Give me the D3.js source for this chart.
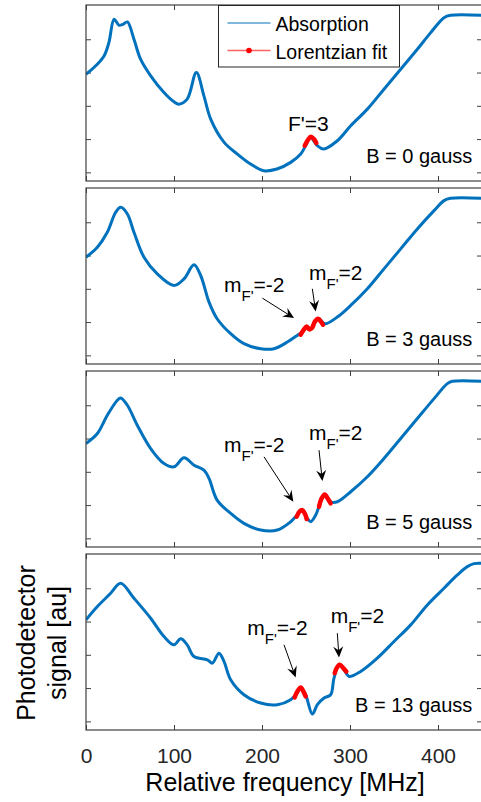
<!DOCTYPE html>
<html>
<head>
<meta charset="utf-8">
<script src="https://cdn.jsdelivr.net/npm/d3@7"></script>
<style>
  body { margin: 0; background: #fff; }
  svg { display: block; font-family: "Liberation Sans", Arial, sans-serif; }
</style>
</head>
<body>
<svg id="chart" width="481" height="802"></svg>
<script>
// data: [frequency MHz, signal au]
const fieldLabels = ["B = 0 gauss", "B = 3 gauss", "B = 5 gauss", "B = 13 gauss"]
const xTicks = [0, 100, 200, 300, 400]
const yTicks = [0, 1, 2, 3, 4]

const abs0 = [[0,2.95],[9,3.15],[20.5,3.5],[26,3.9],[32,4.6],[37.5,4.42],[42,4.45],[47,4.52],[54.5,4.0],[62,3.4],[73.5,2.9],[88.6,2.4],[100,2.12],[105.7,2.05],[115,2.2],[125.4,3.0],[134,2.3],[141.7,1.6],[157,0.9],[172,0.55],[187,0.25],[202,0.05],[217,0.1],[232.6,0.3],[244,0.55],[249.6,0.8],[255,1.05],[263,0.8],[270,0.7],[285.6,0.95],[300.8,1.4],[319.7,1.9],[338.6,2.5],[357.6,3.1],[376.5,3.7],[391.7,4.2],[406.8,4.65],[414.4,4.72],[450,4.72]]
const abs3 = [[0,2.95],[12.9,3.25],[24.2,3.7],[33.7,4.3],[39.4,4.45],[47,4.25],[54.5,3.7],[65.9,2.95],[81,2.45],[100,2.1],[111.4,2.3],[122.7,2.72],[130.3,2.4],[139.8,1.6],[149,1.1],[164.4,0.65],[179.5,0.35],[198.5,0.2],[213.6,0.2],[228.8,0.4],[240,0.6],[245.8,0.7],[250.8,0.87],[255.3,0.78],[259,0.95],[264.8,1.1],[268.6,1.0],[272.3,0.95],[285.6,1.15],[300.8,1.5],[319.7,2.0],[338.6,2.6],[357.6,3.2],[376.5,3.8],[395.5,4.35],[406.8,4.65],[414.4,4.72],[450,4.72]]
const abs5 = [[0,2.85],[12.9,3.15],[24.2,3.7],[35.6,4.15],[39.4,4.22],[47,4.0],[58.3,3.4],[73.5,2.7],[88.6,2.25],[100,2.15],[111.4,2.42],[122.7,2.2],[134,2.05],[139.8,1.8],[149,1.15],[164.4,0.75],[179.5,0.45],[198.5,0.25],[217.4,0.25],[232.6,0.5],[240,0.7],[245.8,0.85],[251.5,0.6],[255.3,0.5],[261,0.7],[266.7,1.1],[271.2,1.32],[278,1.1],[285.6,1.1],[300.8,1.4],[319.7,1.85],[338.6,2.4],[357.6,3.0],[376.5,3.6],[395.5,4.2],[410.6,4.65],[416.3,4.72],[450,4.72]]
const abs13 = [[0,3.05],[12.9,3.45],[28,3.85],[39.4,4.15],[54.5,3.7],[73.5,3.1],[88.6,2.55],[100,2.3],[107.6,2.48],[115,2.3],[122.7,1.95],[137.9,1.85],[143.6,1.75],[151.1,2.05],[156.8,1.8],[164.4,1.25],[179.5,0.8],[198.5,0.55],[217.4,0.5],[232.6,0.65],[240,0.85],[244,1.02],[249.6,0.8],[257.2,0.22],[262.9,0.5],[270.5,0.7],[278,0.8],[281.8,1.3],[287.5,1.7],[293.2,1.55],[298.9,1.35],[312.1,1.5],[331,1.9],[350,2.4],[369,2.9],[387.9,3.5],[406.8,4.0],[422,4.4],[433.3,4.65],[440.9,4.74],[450,4.75]]

// Lorentzian fits (red)
const fit0 = [[[248.5,0.8],[252.3,0.98],[255.3,1.07],[259,1.0],[261.7,0.88]]]
const fit3 = [[[243.9,0.62],[247.7,0.78],[250.8,0.87],[253.8,0.78],[256.8,0.82],[259.8,1.0],[263.6,1.1],[267.4,1.0],[269.3,0.92]]]
const fit5 = [[[239.4,0.65],[242.4,0.8],[245.8,0.85],[248.9,0.73],[250.8,0.58]],
              [[264.8,0.95],[267.4,1.18],[271.2,1.32],[275,1.18],[278,1.05]]]
const fit13 = [[[237.1,0.72],[240.2,0.9],[244,1.02],[247,0.9],[249.6,0.75]],
               [[282.6,1.45],[284.8,1.6],[288.3,1.7],[292.4,1.6],[295.8,1.5]]]

const absData = [abs0, abs3, abs5, abs13]
const fitData = [fit0, fit3, fit5, fit13]

// annotations: label, text anchor point and arrow (from -> to), in data units
const notes = [
    [{ main: "F'=3", at: [229.5, 1.25] }],
    [{ sub: "-2", at: [156.8, 1.9], arrow: [[200.4, 1.72], [236.4, 1.12]] },
     { sub: "2", at: [253.4, 2.25], arrow: [[257.2, 2.0], [261, 1.32]] }],
    [{ sub: "-2", at: [156.8, 2.6], arrow: [[202.3, 2.45], [235.6, 1.1]] },
     { sub: "2", at: [253.4, 2.95], arrow: [[264.8, 2.65], [268.6, 1.72]] }],
    [{ sub: "-2", at: [183.3, 2.6], arrow: [[225, 2.3], [238.3, 1.32]] },
     { sub: "2", at: [278, 2.95], arrow: [[285.6, 2.65], [287.5, 1.92]] }]
]

const svg = d3.select("#chart")
const left = 86, right = 482
const panelH = 176, panelStep = 183, firstTop = 5
const axisColor = "#404040"

const x = d3.scaleLinear().domain([0, 450]).range([left, right])

svg.append("defs").append("clipPath").attr("id", "plotclip")
    .append("rect").attr("x", left).attr("y", 0).attr("width", right - left).attr("height", 802)

absData.forEach((abs, i) => {
    const top = firstTop + i * panelStep
    const y = d3.scaleLinear().domain([-0.26, 5.03]).range([top + panelH, top])
    const g = svg.append("g").attr("class", "panel")

    // axes with ticks on all four sides, pointing inward
    const isLast = i === absData.length - 1
    const bottom = g.append("g").attr("transform", `translate(0, ${top + panelH})`)
        .call(d3.axisBottom(x).tickValues(xTicks).tickSize(-5).tickPadding(18)
            .tickFormat(isLast ? d3.format("d") : ""))
    g.append("g").attr("transform", `translate(0, ${top})`)
        .call(d3.axisTop(x).tickValues(xTicks).tickSize(-5).tickFormat(""))
    g.append("g").attr("transform", `translate(${left}, 0)`)
        .call(d3.axisLeft(y).tickValues(yTicks).tickSize(-5).tickFormat(""))
    g.append("g").attr("transform", `translate(${right}, 0)`)
        .call(d3.axisRight(y).tickValues(yTicks).tickSize(-5).tickFormat(""))
    g.selectAll(".domain").remove()
    g.selectAll(".tick line").attr("stroke", axisColor).attr("stroke-width", 1)
    bottom.selectAll("text").attr("fill", "#262626").attr("font-size", 21)
        .attr("font-family", "Liberation Sans, Arial, sans-serif")

    const line = d3.line().x(d => x(d[0])).y(d => y(d[1])).curve(d3.curveCatmullRom)

    g.append("path")
        .datum(abs)
        .attr("d", line)
        .attr("clip-path", "url(#plotclip)")
        .attr("fill", "none")
        .attr("stroke", "#0072BD")
        .attr("stroke-width", 3)
        .attr("stroke-linejoin", "round")

    fitData[i].forEach(seg => {
        g.append("path")
            .datum(seg)
            .attr("d", line)
            .attr("fill", "none")
            .attr("stroke", "#ff0000")
            .attr("stroke-width", 4.5)
            .attr("stroke-linecap", "round")
            .attr("stroke-linejoin", "round")
    })

    g.append("rect")
        .attr("x", left).attr("y", top)
        .attr("width", right - left).attr("height", panelH)
        .attr("fill", "none").attr("stroke", axisColor).attr("stroke-width", 1.2)

    g.append("text")
        .attr("x", x(439)).attr("y", y(0.27))
        .attr("text-anchor", "end")
        .attr("font-size", 20)
        .text(fieldLabels[i])

    // annotations
    notes[i].forEach(n => {
        const t = g.append("text").attr("x", x(n.at[0])).attr("y", y(n.at[1])).attr("font-size", 21)
        if (n.main) {
            t.text(n.main)
        } else {
            t.append("tspan").text("m")
            t.append("tspan").attr("font-size", 15).attr("dy", 9).text("F'")
            t.append("tspan").attr("dy", -9).text("=" + n.sub)
        }
        if (n.arrow) {
            const [p0, p1] = n.arrow
            const x0 = x(p0[0]), y0 = y(p0[1]), x1 = x(p1[0]), y1 = y(p1[1])
            const ang = Math.atan2(y1 - y0, x1 - x0)
            const len = 11, half = 5
            const bx = x1 - len * Math.cos(ang), by = y1 - len * Math.sin(ang)
            const back = 0.35 * len
            const cx = x1 - (len - back) * Math.cos(ang), cy = y1 - (len - back) * Math.sin(ang)
            g.append("line")
                .attr("x1", x0).attr("y1", y0).attr("x2", cx).attr("y2", cy)
                .attr("stroke", "#000").attr("stroke-width", 1)
            g.append("path")
                .attr("d", `M${x1},${y1} L${bx - half * Math.sin(ang)},${by + half * Math.cos(ang)} L${cx},${cy} L${bx + half * Math.sin(ang)},${by - half * Math.cos(ang)} Z`)
                .attr("fill", "#000")
        }
    })
})

// legend in the first panel
const legend = svg.append("g").attr("transform", "translate(218.5, 5.5)")
legend.append("rect").attr("width", 181).attr("height", 61.5)
    .attr("fill", "#fff").attr("stroke", "#262626").attr("stroke-width", 1)
legend.append("line").attr("x1", 9).attr("x2", 52).attr("y1", 17.5).attr("y2", 17.5)
    .attr("stroke", "#0072BD").attr("stroke-width", 1)
legend.append("text").attr("x", 57).attr("y", 25.5).attr("font-size", 19.5).text("Absorption")
legend.append("line").attr("x1", 9).attr("x2", 52).attr("y1", 45).attr("y2", 45)
    .attr("stroke", "#ff6060").attr("stroke-width", 1.5)
legend.append("circle").attr("cx", 30.5).attr("cy", 45).attr("r", 2.8).attr("fill", "#ff0000")
legend.append("text").attr("x", 57).attr("y", 53.5).attr("font-size", 19.5).text("Lorentzian fit")

// axis titles
svg.append("text")
    .attr("x", (left + right) / 2 + 1).attr("y", 791)
    .attr("text-anchor", "middle").attr("font-size", 25)
    .text("Relative frequency [MHz]")

const ylab = svg.append("text")
    .attr("transform", "translate(35, 643) rotate(-90)")
    .attr("text-anchor", "middle").attr("font-size", 25)
ylab.append("tspan").attr("x", 0).attr("y", 0).text("Photodetector")
ylab.append("tspan").attr("x", 0).attr("y", 31).text("signal [au]")
</script>
</body>
</html>
